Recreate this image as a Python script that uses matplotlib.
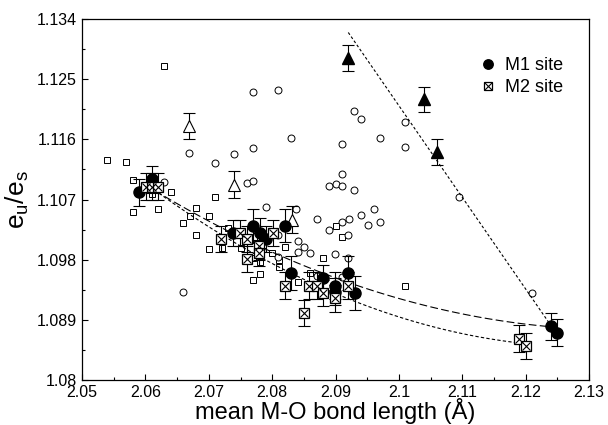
import numpy as np
import matplotlib
matplotlib.use('Agg')
import matplotlib.pyplot as plt
from matplotlib.legend_handler import HandlerTuple
from matplotlib.ticker import FixedLocator, FixedFormatter

plt.rcParams['font.family'] = ['Liberation Sans', 'DejaVu Sans']
plt.rcParams['mathtext.fontset'] = 'custom'
plt.rcParams['mathtext.rm'] = 'Liberation Sans'
plt.rcParams['mathtext.it'] = 'Liberation Sans'

# literature data, open squares
sq_x = [2.054, 2.057, 2.063, 2.058, 2.064, 2.061, 2.058, 2.062, 2.067, 2.068,
        2.070, 2.071, 2.066, 2.068, 2.070, 2.072, 2.073, 2.075, 2.077, 2.078,
        2.078, 2.081, 2.082, 2.084, 2.088, 2.090, 2.091, 2.086, 2.101, 2.078,
        2.080, 2.077, 2.081]
sq_y = [1.1129, 1.1126, 1.1270, 1.1099, 1.1081, 1.1078, 1.1052, 1.1056, 1.1046, 1.1058,
        1.1046, 1.1074, 1.1035, 1.1017, 1.0996, 1.0998, 1.1027, 1.0998, 1.0950, 1.0959,
        1.0977, 1.0969, 1.0999, 1.0947, 1.0983, 1.1031, 1.1014, 1.0960, 1.0941, 1.1010,
        1.0990, 1.0983, 1.0980]

# literature data, open circles
ci_x = [2.0669, 2.0710, 2.0740, 2.0770, 2.0770, 2.0809, 2.0830, 2.0760, 2.0770, 2.0790,
        2.0630, 2.0838, 2.0929, 2.0940, 2.0910, 2.0970, 2.1009, 2.1009, 2.0910, 2.0890,
        2.0901, 2.0910, 2.0929, 2.1095, 2.0871, 2.0890, 2.0910, 2.0921, 2.0940, 2.0960,
        2.0951, 2.0970, 2.0850, 2.0860, 2.0899, 2.0920, 2.0871, 2.0910, 2.1210, 2.0659,
        2.0809, 2.0841, 2.0841, 2.0809, 2.0920]
ci_y = [1.1140, 1.1125, 1.1138, 1.1147, 1.1231, 1.1234, 1.1162, 1.1095, 1.1098, 1.1059,
        1.1096, 1.1056, 1.1202, 1.1190, 1.1153, 1.1162, 1.1186, 1.1149, 1.1108, 1.1090,
        1.1093, 1.1090, 1.1084, 1.1074, 1.1041, 1.1025, 1.1037, 1.1041, 1.1047, 1.1056,
        1.1032, 1.1037, 1.0999, 1.0990, 1.0989, 1.0983, 1.0956, 1.0954, 1.0930, 1.0932,
        1.1017, 1.1008, 1.0992, 1.0984, 1.1017]

# open triangles
ot_x = [2.0669, 2.0740, 2.0831]
ot_y = [1.1180, 1.1092, 1.1040]
ot_err = [0.002, 0.002, 0.002]

# filled triangles
ft_x = [2.0920, 2.1039, 2.1060]
ft_y = [1.1282, 1.1220, 1.1141]
ft_err = [0.0019, 0.0019, 0.0019]

# M1 site
m1_x = [2.0590, 2.0610, 2.0738, 2.0770, 2.0781, 2.0790, 2.0820, 2.0830, 2.0880, 2.0899,
        2.0899, 2.0920, 2.0931, 2.1240, 2.1249]
m1_y = [1.1081, 1.1100, 1.1020, 1.1031, 1.1020, 1.1011, 1.1031, 1.0960, 1.0952, 1.0941,
        1.0932, 1.0960, 1.0930, 1.0880, 1.0871]
m1_err = [0.002, 0.002, 0.002, 0.0025, 0.0022, 0.002, 0.0025, 0.0025, 0.002, 0.002,
          0.002, 0.0025, 0.0025, 0.002, 0.002]

# M2 site
m2_x = [2.0601, 2.0610, 2.0620, 2.0719, 2.0749, 2.0760, 2.0760, 2.0779, 2.0779, 2.0801,
        2.0820, 2.0850, 2.0858, 2.0871, 2.0880, 2.0899, 2.0920, 2.1189, 2.1200]
m2_y = [1.1089, 1.1089, 1.1089, 1.1011, 1.1020, 1.1011, 1.0981, 1.1000, 1.0990, 1.1020,
        1.0941, 1.0900, 1.0941, 1.0941, 1.0930, 1.0922, 1.0941, 1.0862, 1.0851]
m2_err = [0.002, 0.002, 0.002, 0.002, 0.002, 0.002, 0.002, 0.002, 0.002, 0.002,
          0.002, 0.002, 0.002, 0.002, 0.002, 0.002, 0.002, 0.002, 0.002]

# trend lines
fit1_x = [2.062, 2.0831, 2.1017, 2.124]
fit1_y = [1.1080, 1.0980, 1.0916, 1.0880]
fit2_x = [2.062, 2.0918, 2.1014, 2.1191]
fit2_y = [1.1080, 1.0925, 1.0887, 1.0856]
steep_x = [2.0920, 2.1240]
steep_y = [1.1320, 1.0881]

xticks = [2.05, 2.06, 2.07, 2.08, 2.09, 2.10, 2.11, 2.12, 2.13]
xlabels = ['2.05', '2.06', '2.07', '2.08', '2.09', '2.1', '2.11', '2.12', '2.13']
yticks = [1.080, 1.089, 1.098, 1.107, 1.116, 1.125, 1.134]
ylabels = ['1.08', '1.089', '1.098', '1.107', '1.116', '1.125', '1.134']

fig = plt.figure(figsize=(6.08, 4.25), dpi=100)
ax = fig.add_axes([0.135, 0.106, 0.834, 0.849])

ax.plot(sq_x, sq_y, 's', ms=4.8, mfc='white', mec='black', mew=0.7, zorder=2)
ax.plot(ci_x, ci_y, 'o', ms=5, mfc='white', mec='black', mew=0.7, zorder=2)

# trend lines
p1 = np.polyfit(fit1_x, fit1_y, 2)
xx1 = np.linspace(fit1_x[0] - 0.002, fit1_x[-1], 100)
ax.plot(xx1, np.polyval(p1, xx1), color='black', lw=0.8, dashes=(7, 3), zorder=3)
p2 = np.polyfit(fit2_x, fit2_y, 2)
xx2 = np.linspace(fit2_x[0] - 0.002, fit2_x[-1], 100)
ax.plot(xx2, np.polyval(p2, xx2), color='black', lw=0.8, dashes=(3, 2), zorder=3)
ax.plot(steep_x, steep_y, color='black', lw=0.8, dashes=(2.5, 2), zorder=3)

ebkw = dict(fmt='none', ecolor='black', elinewidth=0.8, capsize=4, capthick=0.8, zorder=4)
ax.errorbar(ot_x, ot_y, yerr=ot_err, **ebkw)
ax.errorbar(ft_x, ft_y, yerr=ft_err, **ebkw)
ax.errorbar(m1_x, m1_y, yerr=m1_err, **ebkw)
ax.errorbar(m2_x, m2_y, yerr=m2_err, **ebkw)

ax.plot(ot_x, ot_y, '^', ms=8, mfc='white', mec='black', mew=0.8, zorder=5)
ax.plot(ft_x, ft_y, '^', ms=8, mfc='black', mec='black', zorder=5)
h_m1, = ax.plot(m1_x, m1_y, 'o', ms=8, mfc='black', mec='black', zorder=6)
h_m2a, = ax.plot(m2_x, m2_y, 's', ms=7.5, mfc='white', mec='black', mew=0.9, zorder=7)
h_m2b, = ax.plot(m2_x, m2_y, 'x', ms=6, mec='black', mew=0.8, zorder=8)

ax.set_xlim(2.05, 2.13)
ax.set_ylim(1.08, 1.134)
ax.xaxis.set_major_locator(FixedLocator(xticks))
ax.xaxis.set_major_formatter(FixedFormatter(xlabels))
ax.yaxis.set_major_locator(FixedLocator(yticks))
ax.yaxis.set_major_formatter(FixedFormatter(ylabels))
ax.set_xticks(np.array(xticks[:-1]) + 0.005, minor=True)
ax.set_yticks(np.array(yticks[:-1]) + 0.0045, minor=True)
ax.tick_params(which='both', direction='in', top=False, right=False, labelsize=11.5)
ax.tick_params(axis='x', which='both', pad=3.5)
ax.tick_params(axis='y', which='both', pad=4)
ax.tick_params(which='major', length=4, width=0.8)
ax.tick_params(which='minor', length=2.5, width=0.8)
for s in ax.spines.values():
    s.set_linewidth(0.9)

ax.set_xlabel('mean M-O bond length (Å)', fontsize=17, labelpad=-1)
ax.set_ylabel(r'$\mathregular{e_u/e_s}$', fontsize=19)
ax.yaxis.set_label_coords(-0.10, 0.5)

ax.legend([h_m1, (h_m2a, h_m2b)], ['M1 site', 'M2 site'],
          handler_map={tuple: HandlerTuple(ndivide=1, pad=0)},
          loc='upper left', bbox_to_anchor=(0.755, 0.94), frameon=False,
          fontsize=13, handlelength=0.8, handletextpad=0.5, labelspacing=0.3,
          markerscale=0.85)

fig.savefig('out.png', dpi=100)
